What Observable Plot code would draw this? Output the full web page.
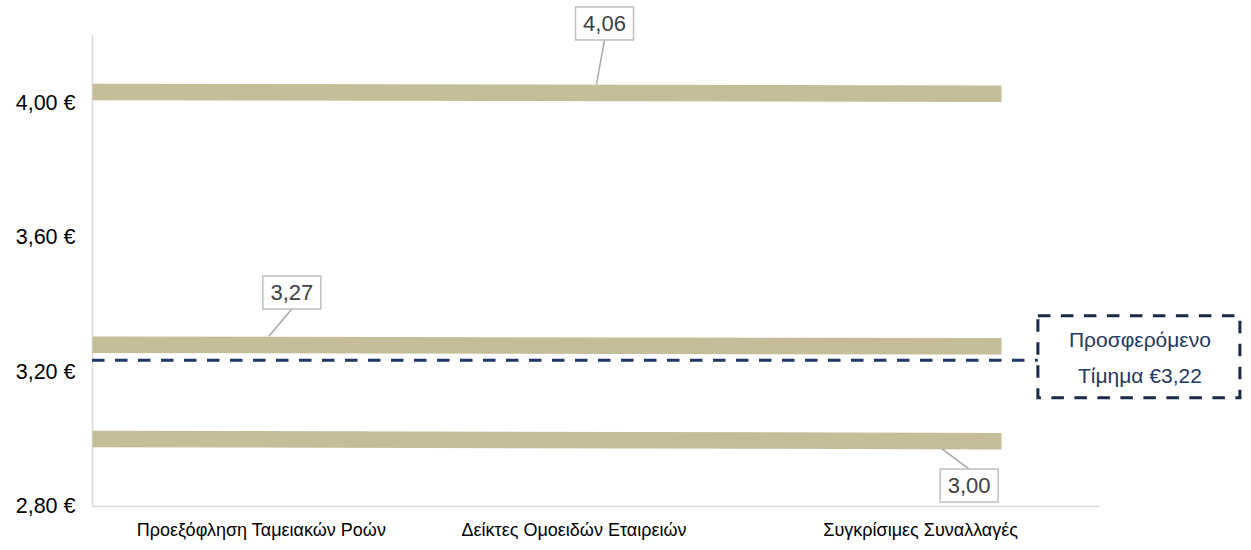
<!DOCTYPE html>
<html>
<head>
<meta charset="utf-8">
<script src="https://cdn.jsdelivr.net/npm/d3@7"></script>
<script src="https://cdn.jsdelivr.net/npm/@observablehq/plot@0.6"></script>
<style>
  html, body { margin: 0; padding: 0; background: #fff; }
  #chart { width: 1251px; height: 550px; }
</style>
</head>
<body>
<div id="chart"></div>
<script>
// ---- data ----
const categories = ["Προεξόφληση Ταμειακών Ροών", "Δείκτες Ομοειδών Εταιρειών", "Συγκρίσιμες Συναλλαγές"];
const seriesNames = ["high", "mid", "low"];
const startValues = [4.032, 3.281, 3.001];   // band value at left end
const endValues   = [4.027, 3.276, 2.994];   // band value at right end
const offerPrice = 3.235;
const offerText = ["Προσφερόμενο", "Τίμημα €3,22"];
const labelTexts = ["4,06", "3,27", "3,00"];
const labelSeries = [0, 1, 2];
const labelCategory = [1, 0, 2];
const yTicks = [2.8, 3.2, 3.6, 4.0];

// ---- layout ----
const FONT = "Liberation Sans, Arial, Helvetica, sans-serif";
const lineEnd = 2.708;        // right end of bands in category-index units
const offerEnd = 2.818;       // dashed line meets annotation box
const catNudge = [1, -22, -11]; // horizontal nudge of category labels (px)
const labelLayout = [
  { ax: 1,  bx: 8,  by: -69 },
  { ax: 9,  bx: 23, by: -52 },
  { ax: 11, bx: 27, by: 45 }
];

const bands = seriesNames.map((s, i) => ({ s, y1: startValues[i], y2: endValues[i] }));
const fmtY = d => d.toFixed(2).replace(".", ",") + " €";

const plot = Plot.plot({
  width: 1251,
  height: 550,
  marginLeft: 92,
  marginRight: 152,
  marginTop: 35,
  marginBottom: 44,
  style: { fontFamily: FONT, fontSize: "18px", color: "#000", background: "#fff", overflow: "visible" },
  x: { domain: [0, 3], label: null },
  y: { domain: [2.8, 4.2], label: null },
  marks: [
    Plot.axisY({ ticks: yTicks, tickFormat: fmtY, tickSize: 0, tickPadding: 17, fontSize: 21.5, label: null }),
    ...categories.map((c, i) =>
      Plot.axisX({ ticks: [i + 0.5], tickFormat: () => c, tickSize: 0, tickPadding: 17, fontSize: 18, dx: catNudge[i], label: null })
    ),
    Plot.ruleX([0], { stroke: "#d9d9d9", strokeWidth: 1.5 }),
    Plot.ruleY([2.8], { x1: 0, x2: 3, stroke: "#d9d9d9", strokeWidth: 1.5 }),
    Plot.link(bands, { x1: 0, x2: lineEnd, y1: "y1", y2: "y2", stroke: "#c4bd97", strokeWidth: 16.5, strokeLinecap: "butt" }),
    Plot.ruleY([offerPrice], { x1: 0, x2: offerEnd, stroke: "#1f3864", strokeWidth: 3, strokeDasharray: "12.5,10.5" })
  ]
});

document.getElementById("chart").appendChild(plot);

// ---- annotations through the plot's scales ----
const svg = d3.select(plot);
const xs = plot.scale("x"), ys = plot.scale("y");
const valueAt = (si, xi) => startValues[si] + (endValues[si] - startValues[si]) * (xi / lineEnd);

labelTexts.forEach((txt, i) => {
  const si = labelSeries[i], ci = labelCategory[i], L = labelLayout[i];
  const cx = ci + 0.5;
  const px = xs.apply(cx) + L.ax;
  const py = ys.apply(valueAt(si, cx));
  const half = 8.25;
  const bw = 58, bh = 33;
  const bcx = px + L.bx, bcy = py + L.by;
  const g = svg.append("g");
  const up = L.by < 0;
  g.append("line")
    .attr("x1", px).attr("y1", up ? py - half : py + half)
    .attr("x2", bcx).attr("y2", up ? bcy + bh / 2 : bcy - bh / 2)
    .attr("stroke", "#a6a6a6").attr("stroke-width", 1.5);
  g.append("rect")
    .attr("x", bcx - bw / 2).attr("y", bcy - bh / 2)
    .attr("width", bw).attr("height", bh)
    .attr("fill", "#fff").attr("stroke", "#bfbfbf").attr("stroke-width", 1.5);
  g.append("text")
    .attr("x", bcx).attr("y", bcy).attr("dy", "0.36em")
    .attr("text-anchor", "middle")
    .attr("font-family", FONT).attr("font-size", 22).attr("fill", "#404040")
    .text(txt);
});

// offer annotation box
{
  const left = xs.apply(offerEnd);
  const cy = ys.apply(offerPrice) - 3;
  const bw = 202, bh = 82;
  const g = svg.append("g");
  g.append("rect")
    .attr("x", left).attr("y", cy - bh / 2)
    .attr("width", bw).attr("height", bh)
    .attr("fill", "#fff").attr("stroke", "#1b2a47").attr("stroke-width", 3)
    .attr("stroke-dasharray", "12.5,10.5");
  offerText.forEach((t, k) => {
    g.append("text")
      .attr("x", left + bw / 2 + 1).attr("y", cy - 17 + k * 36).attr("dy", "0.35em")
      .attr("text-anchor", "middle")
      .attr("font-family", FONT).attr("font-size", 21).attr("fill", "#1f3864")
      .text(t);
  });
}
</script>
</body>
</html>
